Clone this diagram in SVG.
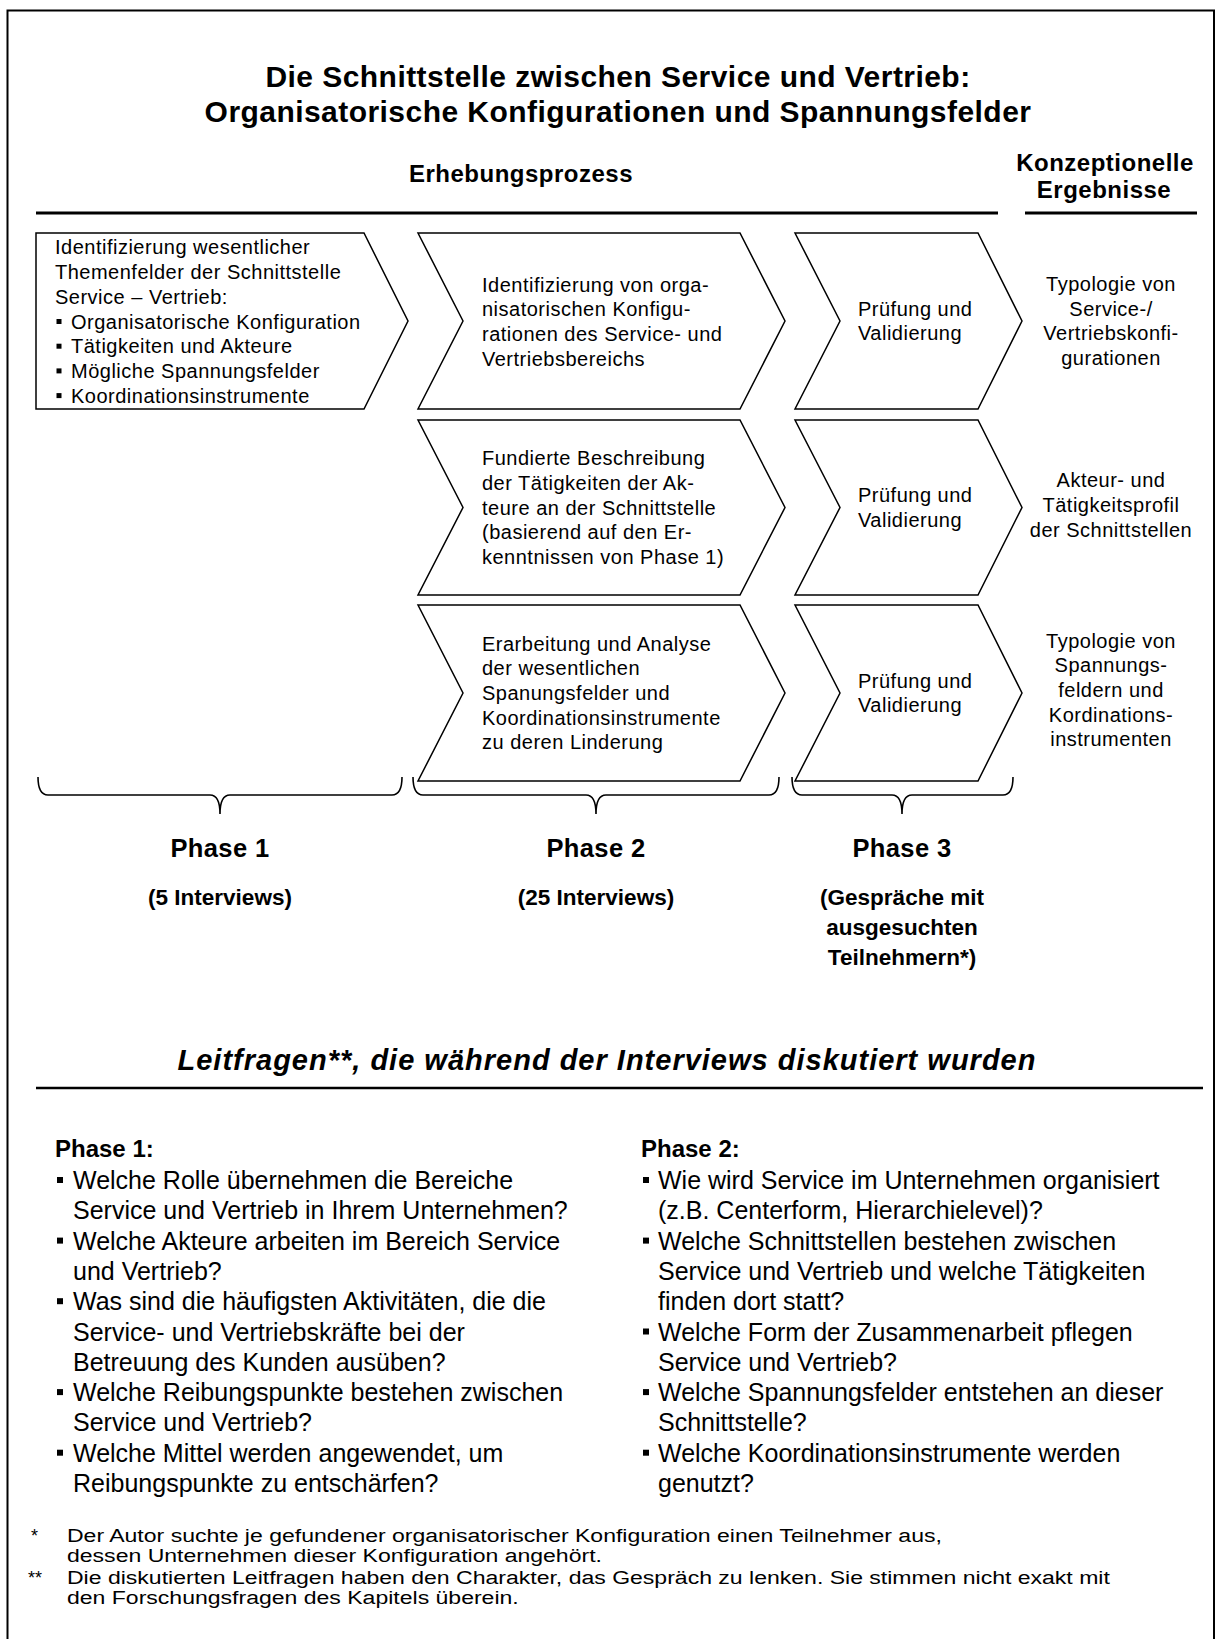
<svg xmlns="http://www.w3.org/2000/svg" width="1216" height="1639" viewBox="0 0 1216 1639">
<style>
text{font-family:"Liberation Sans",Arial,sans-serif;fill:#000}
.title{font-size:30px;font-weight:bold;letter-spacing:0.45px;text-anchor:middle}
.hdr{font-size:24px;font-weight:bold;letter-spacing:0.5px}
.hdrc{font-size:24px;font-weight:bold;letter-spacing:0.5px;text-anchor:middle}
.bx{font-size:20px;letter-spacing:0.5px}
.res{font-size:20px;letter-spacing:0.5px;text-anchor:middle}
.ph{font-size:25.5px;font-weight:bold;letter-spacing:0.4px;text-anchor:middle}
.phs{font-size:22.5px;font-weight:bold;text-anchor:middle}
.lf{font-size:29px;font-weight:bold;font-style:italic;letter-spacing:1px;text-anchor:middle}
.qh{font-size:24px;font-weight:bold}
.q{font-size:25px}
.fn{font-size:18px}
.shape{fill:#fff;stroke:#000;stroke-width:1.5;stroke-linejoin:miter}
.rule{stroke:#000;stroke-width:3}
.brace{fill:none;stroke:#000;stroke-width:1.6}
.bul{fill:#000}
</style>
<rect x="0" y="0" width="1216" height="1639" fill="#fff"/>
<path d="M7.5,1650 V10.5 H1214 V1650" fill="none" stroke="#000" stroke-width="2"/>

<g id="title">
<text class="title" x="618" y="87">Die Schnittstelle zwischen Service und Vertrieb:</text>
<text class="title" x="618" y="122">Organisatorische Konfigurationen und Spannungsfelder</text>
</g>

<g id="headers">
<text class="hdr" x="409" y="182">Erhebungsprozess</text>
<text class="hdrc" x="1105" y="171">Konzeptionelle</text>
<text class="hdrc" x="1104" y="198">Ergebnisse</text>
<line class="rule" x1="36" y1="213" x2="998" y2="213"/>
<line class="rule" x1="1025" y1="213" x2="1197" y2="213"/>
</g>

<g id="p1-themen">
<path class="shape" d="M36,233 H364 L408,321 L364,409 H36 Z"/>
<text class="bx" x="55" y="254.4">Identifizierung wesentlicher</text>
<text class="bx" x="55" y="279.1">Themenfelder der Schnittstelle</text>
<text class="bx" x="55" y="303.8">Service – Vertrieb:</text>
<rect class="bul" x="56.5" y="319" width="5" height="5"/>
<text class="bx" x="71" y="328.5">Organisatorische Konfiguration</text>
<rect class="bul" x="56.5" y="343.7" width="5" height="5"/>
<text class="bx" x="71" y="353.2">Tätigkeiten und Akteure</text>
<rect class="bul" x="56.5" y="368.4" width="5" height="5"/>
<text class="bx" x="71" y="377.9">Mögliche Spannungsfelder</text>
<rect class="bul" x="56.5" y="393.1" width="5" height="5"/>
<text class="bx" x="71" y="402.6">Koordinationsinstrumente</text>
</g>

<g id="p2-row1">
<path class="shape" d="M418,233 H740 L785,321 L740,409 H418 L463,321 Z"/>
<text class="bx" x="482" y="291.5">Identifizierung von orga-</text>
<text class="bx" x="482" y="316.2">nisatorischen Konfigu-</text>
<text class="bx" x="482" y="340.9">rationen des Service- und</text>
<text class="bx" x="482" y="365.6">Vertriebsbereichs</text>
</g>
<g id="p3-row1">
<path class="shape" d="M795,233 H978 L1022,321 L978,409 H795 L840,321 Z"/>
<text class="bx" x="858" y="315.6">Prüfung und</text>
<text class="bx" x="858" y="340.3">Validierung</text>
</g>
<g id="res-row1">
<text class="res" x="1111" y="291">Typologie von</text>
<text class="res" x="1111" y="315.7">Service-/</text>
<text class="res" x="1111" y="340.4">Vertriebskonfi-</text>
<text class="res" x="1111" y="365.1">gurationen</text>
</g>

<g id="p2-row2">
<path class="shape" d="M418,420 H740 L785,507.5 L740,595 H418 L463,507.5 Z"/>
<text class="bx" x="482" y="465.1">Fundierte Beschreibung</text>
<text class="bx" x="482" y="489.8">der Tätigkeiten der Ak-</text>
<text class="bx" x="482" y="514.5">teure an der Schnittstelle</text>
<text class="bx" x="482" y="539.2">(basierend auf den Er-</text>
<text class="bx" x="482" y="563.9">kenntnissen von Phase 1)</text>
</g>
<g id="p3-row2">
<path class="shape" d="M795,420 H978 L1022,507.5 L978,595 H795 L840,507.5 Z"/>
<text class="bx" x="858" y="502.2">Prüfung und</text>
<text class="bx" x="858" y="526.9">Validierung</text>
</g>
<g id="res-row2">
<text class="res" x="1111" y="487.3">Akteur- und</text>
<text class="res" x="1111" y="512">Tätigkeitsprofil</text>
<text class="res" x="1111" y="536.7">der Schnittstellen</text>
</g>

<g id="p2-row3">
<path class="shape" d="M418,605 H740 L785,693 L740,781 H418 L463,693 Z"/>
<text class="bx" x="482" y="650.6">Erarbeitung und Analyse</text>
<text class="bx" x="482" y="675.3">der wesentlichen</text>
<text class="bx" x="482" y="700">Spanungsfelder und</text>
<text class="bx" x="482" y="724.7">Koordinationsinstrumente</text>
<text class="bx" x="482" y="749.4">zu deren Linderung</text>
</g>
<g id="p3-row3">
<path class="shape" d="M795,605 H978 L1022,693 L978,781 H795 L840,693 Z"/>
<text class="bx" x="858" y="687.7">Prüfung und</text>
<text class="bx" x="858" y="712.4">Validierung</text>
</g>
<g id="res-row3">
<text class="res" x="1111" y="647.6">Typologie von</text>
<text class="res" x="1111" y="672.3">Spannungs-</text>
<text class="res" x="1111" y="697">feldern und</text>
<text class="res" x="1111" y="721.7">Kordinations-</text>
<text class="res" x="1111" y="746.4">instrumenten</text>
</g>

<g id="connectors">
<path class="brace" d="M38,777 Q38,795 48,795 L210,795 Q220,795 220,814 Q220,795 230,795 L392,795 Q402,795 402,777"/>
<path class="brace" d="M413,777 Q413,795 423,795 L586,795 Q596,795 596,814 Q596,795 606,795 L769,795 Q779,795 779,777"/>
<path class="brace" d="M792,777 Q792,795 802,795 L892,795 Q902,795 902,814 Q902,795 912,795 L1003,795 Q1013,795 1013,777"/>
</g>

<g id="phase1">
<text class="ph" x="220" y="857">Phase 1</text>
<text class="phs" x="220" y="905">(5 Interviews)</text>
</g>
<g id="phase2">
<text class="ph" x="596" y="857">Phase 2</text>
<text class="phs" x="596" y="905">(25 Interviews)</text>
</g>
<g id="phase3">
<text class="ph" x="902" y="857">Phase 3</text>
<text class="phs" x="902" y="905">(Gespräche mit</text>
<text class="phs" x="902" y="935">ausgesuchten</text>
<text class="phs" x="902" y="965">Teilnehmern*)</text>
</g>

<g id="leitfragen">
<text class="lf" x="607" y="1070">Leitfragen**, die während der Interviews diskutiert wurden</text>
<line x1="36" y1="1088" x2="1203" y2="1088" stroke="#000" stroke-width="2.5"/>
</g>

<g id="fragen-phase1">
<text class="qh" x="55" y="1157">Phase 1:</text>
<rect class="bul" x="57" y="1177" width="6" height="6"/>
<text class="q" x="73" y="1189">Welche Rolle übernehmen die Bereiche</text>
<text class="q" x="73" y="1219.3">Service und Vertrieb in Ihrem Unternehmen?</text>
<rect class="bul" x="57" y="1237.6" width="6" height="6"/>
<text class="q" x="73" y="1249.6">Welche Akteure arbeiten im Bereich Service</text>
<text class="q" x="73" y="1279.9">und Vertrieb?</text>
<rect class="bul" x="57" y="1298.2" width="6" height="6"/>
<text class="q" x="73" y="1310.2">Was sind die häufigsten Aktivitäten, die die</text>
<text class="q" x="73" y="1340.5">Service- und Vertriebskräfte bei der</text>
<text class="q" x="73" y="1370.8">Betreuung des Kunden ausüben?</text>
<rect class="bul" x="57" y="1389.1" width="6" height="6"/>
<text class="q" x="73" y="1401.1">Welche Reibungspunkte bestehen zwischen</text>
<text class="q" x="73" y="1431.4">Service und Vertrieb?</text>
<rect class="bul" x="57" y="1449.7" width="6" height="6"/>
<text class="q" x="73" y="1461.7">Welche Mittel werden angewendet, um</text>
<text class="q" x="73" y="1492">Reibungspunkte zu entschärfen?</text>
</g>

<g id="fragen-phase2">
<text class="qh" x="641" y="1157">Phase 2:</text>
<rect class="bul" x="643" y="1177" width="6" height="6"/>
<text class="q" x="658" y="1189">Wie wird Service im Unternehmen organisiert</text>
<text class="q" x="658" y="1219.3">(z.B. Centerform, Hierarchielevel)?</text>
<rect class="bul" x="643" y="1237.6" width="6" height="6"/>
<text class="q" x="658" y="1249.6">Welche Schnittstellen bestehen zwischen</text>
<text class="q" x="658" y="1279.9">Service und Vertrieb und welche Tätigkeiten</text>
<text class="q" x="658" y="1310.2">finden dort statt?</text>
<rect class="bul" x="643" y="1328.5" width="6" height="6"/>
<text class="q" x="658" y="1340.5">Welche Form der Zusammenarbeit pflegen</text>
<text class="q" x="658" y="1370.8">Service und Vertrieb?</text>
<rect class="bul" x="643" y="1389.1" width="6" height="6"/>
<text class="q" x="658" y="1401.1">Welche Spannungsfelder entstehen an dieser</text>
<text class="q" x="658" y="1431.4">Schnittstelle?</text>
<rect class="bul" x="643" y="1449.7" width="6" height="6"/>
<text class="q" x="658" y="1461.7">Welche Koordinationsinstrumente werden</text>
<text class="q" x="658" y="1492">genutzt?</text>
</g>

<g id="fussnoten">
<text class="fn" x="31" y="1542">*</text>
<text class="fn" transform="translate(67,1542) scale(1.28,1)">Der Autor suchte je gefundener organisatorischer Konfiguration einen Teilnehmer aus,</text>
<text class="fn" transform="translate(67,1562.2) scale(1.28,1)">dessen Unternehmen dieser Konfiguration angehört.</text>
<text class="fn" x="28" y="1584">**</text>
<text class="fn" transform="translate(67,1584) scale(1.28,1)">Die diskutierten Leitfragen haben den Charakter, das Gespräch zu lenken. Sie stimmen nicht exakt mit</text>
<text class="fn" transform="translate(67,1604.2) scale(1.28,1)">den Forschungsfragen des Kapitels überein.</text>
</g>
</svg>
